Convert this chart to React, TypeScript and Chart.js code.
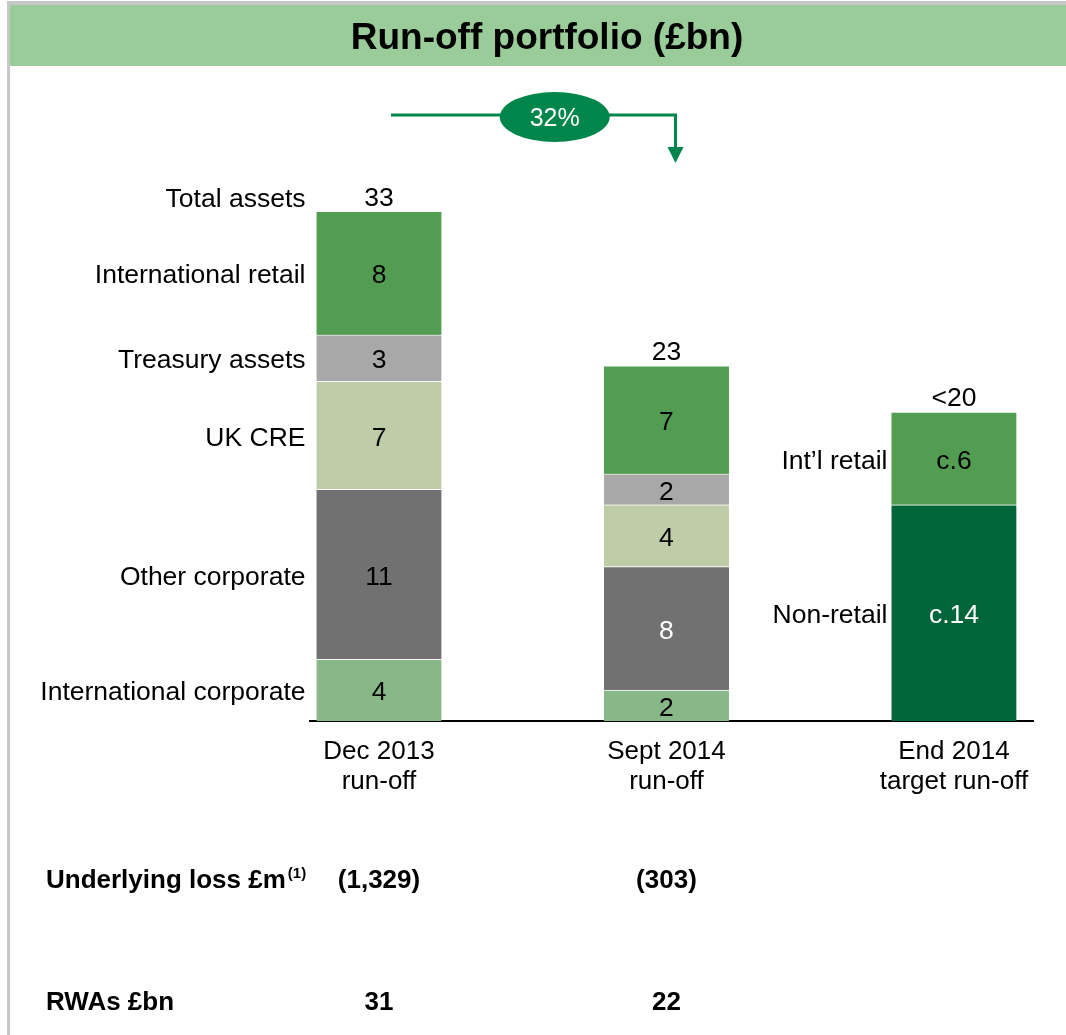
import React, { useEffect, useRef } from "react";
import { Chart, registerables } from "chart.js";

Chart.register(...registerables);

// ---------- data ----------
const TITLE = "Run-off portfolio (£bn)";
const CATEGORIES: string[][] = [
  ["Dec 2013", "run-off"],
  ["Sept 2014", "run-off"],
  ["End 2014", "target run-off"],
];
const NON_RETAIL = [null, null, 14];
const INTL_CORPORATE = [4, 2, null];
const OTHER_CORPORATE = [11, 8, null];
const UK_CRE = [7, 4, null];
const TREASURY = [3, 2, null];
const INTL_RETAIL = [8, 7, 6];
const TOTAL_LABELS = ["33", "23", "<20"];
const TOTAL_NAME = "Total assets";
const VALUE_PREFIX = ["", "", "c."];
const REDUCTION_LABEL = "32%";
const UNDERLYING_LOSS = ["(1,329)", "(303)", ""];
const RWAS = ["31", "22", ""];
const ROW_LABELS = ["Underlying loss £m", "RWAs £bn"];
const ROW_NOTE = "(1)";

const FONT = '"Liberation Sans", Arial, Helvetica, sans-serif';
const W = 1066;
const H = 1035;

type Series = {
  name: string;
  endName: string;
  values: (number | null)[];
  color: string;
  text: string[];
};

const SERIES: Series[] = [
  { name: "", endName: "Non-retail", values: NON_RETAIL, color: "#00663A", text: ["#000", "#000", "#fff"] },
  { name: "International corporate", endName: "", values: INTL_CORPORATE, color: "#88B887", text: ["#000", "#000", "#000"] },
  { name: "Other corporate", endName: "", values: OTHER_CORPORATE, color: "#717171", text: ["#000", "#fff", "#000"] },
  { name: "UK CRE", endName: "", values: UK_CRE, color: "#BFCCA8", text: ["#000", "#000", "#000"] },
  { name: "Treasury assets", endName: "", values: TREASURY, color: "#A8A8A8", text: ["#000", "#000", "#000"] },
  { name: "International retail", endName: "Int\u2019l retail", values: INTL_RETAIL, color: "#539D52", text: ["#000", "#000", "#000"] },
];

const overlay = {
  id: "overlay",
  beforeDraw(chart: any) {
    const ctx = chart.ctx as CanvasRenderingContext2D;
    ctx.save();
    ctx.fillStyle = "#ffffff";
    ctx.fillRect(0, 0, W, H);
    ctx.fillStyle = "#c8c8c8";
    ctx.fillRect(7, 1, W - 7, 4);
    ctx.fillRect(7, 1, 3, H - 1);
    ctx.fillStyle = "#99CC99";
    ctx.fillRect(10, 5, W - 10, 61);
    ctx.fillStyle = "#000";
    ctx.font = `bold 37px ${FONT}`;
    ctx.textAlign = "center";
    ctx.textBaseline = "middle";
    ctx.fillText(TITLE, 547, 39);
    ctx.restore();
  },
  afterDatasetsDraw(chart: any) {
    const ctx = chart.ctx as CanvasRenderingContext2D;
    ctx.save();
    ctx.textBaseline = "middle";
    ctx.font = `26.5px ${FONT}`;
    const tops: number[] = [Infinity, Infinity, Infinity];
    const xs: number[] = [0, 0, 0];
    const halfW: number[] = [0, 0, 0];
    chart.data.datasets.forEach((ds: any, di: number) => {
      const meta = chart.getDatasetMeta(di);
      const s = SERIES[di];
      meta.data.forEach((el: any, k: number) => {
        const raw = ds.data[k];
        const cat = raw.x as number;
        const cy = (el.y + el.base) / 2 + 3;
        xs[cat] = el.x;
        halfW[cat] = el.width / 2;
        tops[cat] = Math.min(tops[cat], el.y);
        ctx.textAlign = "center";
        ctx.fillStyle = s.text[cat];
        ctx.fillText(VALUE_PREFIX[cat] + raw.y, el.x, cy);
        ctx.fillStyle = "#000";
        if (cat === 0 && s.name) {
          ctx.textAlign = "right";
          ctx.fillText(s.name, el.x - el.width / 2 - 11, cy);
        }
        if (cat === 2 && s.endName) {
          ctx.textAlign = "right";
          ctx.fillText(s.endName, el.x - el.width / 2 - 4, cy);
        }
      });
    });
    // totals
    ctx.fillStyle = "#000";
    for (let c = 0; c < 3; c++) {
      ctx.textAlign = "center";
      ctx.fillText(TOTAL_LABELS[c], xs[c], tops[c] - 13);
    }
    ctx.textAlign = "right";
    ctx.fillText(TOTAL_NAME, xs[0] - halfW[0] - 11, tops[0] - 12);

    // reduction arrow
    const green = "#00854A";
    const ay = 115;
    const x0 = xs[0] + 12;
    const x1 = xs[1] + 9;
    ctx.strokeStyle = green;
    ctx.lineWidth = 3;
    ctx.beginPath();
    ctx.moveTo(x0, ay);
    ctx.lineTo(x1, ay);
    ctx.lineTo(x1, 149);
    ctx.stroke();
    ctx.fillStyle = green;
    ctx.beginPath();
    ctx.moveTo(x1 - 8, 147);
    ctx.lineTo(x1 + 8, 147);
    ctx.lineTo(x1, 163);
    ctx.closePath();
    ctx.fill();
    const ex = (xs[0] + xs[1]) / 2 + 32;
    ctx.beginPath();
    ctx.ellipse(ex, 117, 55, 25, 0, 0, Math.PI * 2);
    ctx.fill();
    ctx.fillStyle = "#fff";
    ctx.textAlign = "center";
    ctx.font = `25px ${FONT}`;
    ctx.fillText(REDUCTION_LABEL, ex, 119);

    // table rows
    const rows = [UNDERLYING_LOSS, RWAS];
    const rowY = [881, 1003];
    ctx.fillStyle = "#000";
    rows.forEach((vals, r) => {
      ctx.font = `bold 26px ${FONT}`;
      ctx.textAlign = "left";
      ctx.fillText(ROW_LABELS[r], 46, rowY[r]);
      if (r === 0) {
        const w = ctx.measureText(ROW_LABELS[r]).width;
        ctx.font = `bold 15px ${FONT}`;
        ctx.fillText(ROW_NOTE, 46 + w + 2, rowY[r] - 7);
        ctx.font = `bold 26px ${FONT}`;
      }
      ctx.textAlign = "center";
      vals.forEach((v, c) => {
        if (v) ctx.fillText(v, xs[c], rowY[r]);
      });
    });
    ctx.restore();
  },
};

export default function App() {
  const ref = useRef<HTMLCanvasElement | null>(null);
  useEffect(() => {
    if (!ref.current) return;
    const chart = new Chart(ref.current, {
      type: "bar",
      data: {
        datasets: SERIES.map((s) => ({
          label: s.name || s.endName,
          data: s.values.flatMap((v, i) => (v == null ? [] : [{ x: i, y: v }])),
          backgroundColor: s.color,
          borderColor: "rgba(255,255,255,0.55)",
          borderWidth: { top: 1, left: 0, right: 0, bottom: 0 },
          borderSkipped: false,
          barThickness: 125,
        })) as any,
      },
      options: {
        animation: false,
        responsive: false,
        devicePixelRatio: 1,
        layout: { padding: { left: 310, right: 33, top: 165, bottom: 0 } },
        plugins: {
          legend: { display: false },
          tooltip: { enabled: false },
          title: { display: false },
        },
        scales: {
          x: {
            type: "linear",
            stacked: true,
            offset: false,
            min: -0.24,
            max: 2.275,
            afterBuildTicks: (scale: any) => {
              scale.ticks = CATEGORIES.map((_, i) => ({ value: i }));
            },
            afterFit: (scale: any) => {
              scale.height = H - 721;
              scale.paddingLeft = 0;
              scale.paddingRight = 0;
            },
            grid: { display: true, offset: false, color: "rgba(0,0,0,0)", drawTicks: false },
            border: { display: true, color: "#000", width: 2 },
            ticks: {
              autoSkip: false,
              maxRotation: 0,
              padding: 16,
              color: "#000",
              font: { family: FONT, size: 26, lineHeight: 1.15 },
              callback: (value: any) => CATEGORIES[Math.round(Number(value))] ?? "",
            },
          },
          y: {
            display: false,
            stacked: true,
            min: 0,
            max: 36,
          },
        },
      } as any,
      plugins: [overlay],
    });
    return () => chart.destroy();
  }, []);
  return (
    <div style={{ position: "absolute", left: 0, top: 0, width: W, height: H, overflow: "hidden" }}>
      <canvas ref={ref} width={W} height={H} style={{ display: "block", width: W, height: H }} />
    </div>
  );
}
